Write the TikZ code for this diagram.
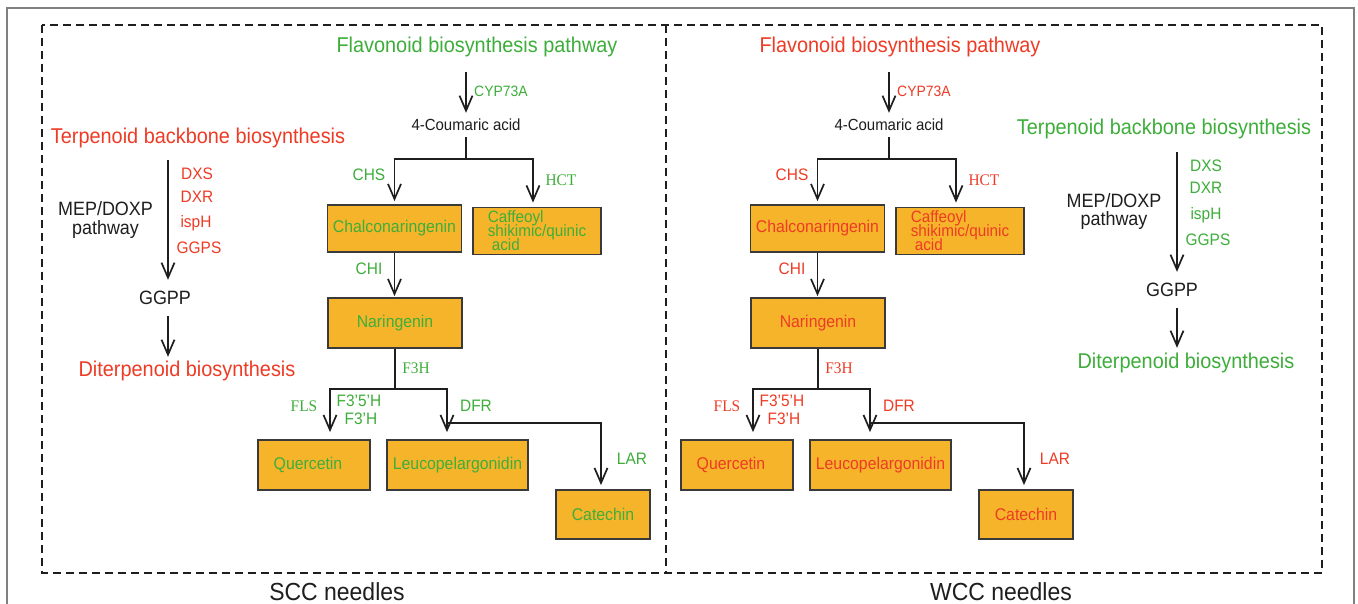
\documentclass[tikz,border=0pt]{standalone}
\usepackage{fontspec}
\setmainfont{Liberation Sans}[FakeStretch=0.93]
\newfontfamily\serifrm{Liberation Serif}[FakeStretch=0.95]
\usetikzlibrary{arrows.meta}
\definecolor{gr}{HTML}{3DAE3A}
\definecolor{rd}{HTML}{EE3B25}
\definecolor{orb}{HTML}{F6B42B}
\definecolor{frm}{HTML}{808080}
\definecolor{ink}{HTML}{1E1E1E}
\definecolor{bord}{HTML}{3A3A3A}
\newcommand\fsT{\fontsize{21.4pt}{24pt}\selectfont}
\newcommand\fsL{\fontsize{16.6pt}{18pt}\selectfont}
\newcommand\fsS{\fontsize{16.2pt}{18pt}\selectfont}
\newcommand\fsB{\fontsize{17pt}{14pt}\selectfont\lineskiplimit=-30pt\lineskip=0pt}
\newcommand\fsBs{\fontsize{16.4pt}{14pt}\selectfont\lineskiplimit=-30pt\lineskip=0pt}
\newcommand\fsC{\fontsize{15pt}{16pt}\selectfont}
\newcommand\fsM{\fontsize{19.3pt}{18.5pt}\selectfont}
\newcommand\fsN{\fontsize{24.7pt}{26pt}\selectfont}
\tikzset{
  ln/.style={line width=1.7pt, draw=ink},
  arr/.style={ln, -{Straight Barb[length=15pt,width=13pt]}},
  box/.style={draw=bord, fill=orb, line width=1.8pt, inner sep=0pt, font=\fsB},
  title/.style={inner sep=0pt, font=\fsT},
  lab/.style={inner sep=0pt, font=\fsL},
  slab/.style={inner sep=0pt, font=\serifrm\fsS},
  cmp/.style={inner sep=0pt, font=\fontsize{16.1pt}{18pt}\selectfont, text=ink},
  mid/.style={inner sep=0pt, font=\fsM, text=ink, align=center},
  dsh/.style={line width=2.2pt, draw=ink, dash pattern=on 8pt off 5pt},
}
\newcommand\flavpanel[3]{%
\begin{scope}[shift={(#2,0)}]
  \node[title, text=#3, minimum height=50] (#1t) at (477,47) {Flavonoid biosynthesis pathway};
  \node[cmp, minimum height=24] (#1ca) at (466,125) {4-Coumaric acid};
  \node[inner sep=0pt, font=\fsC, text=#3, anchor=west] (#1cyp) at (474,91) {CYP73A};
  \node[box, minimum width=134, minimum height=47, text=#3] (#1chal) at (394.5,228.5) {Chalconaringenin};
  \node[box, font=\fsBs, minimum width=128, minimum height=47, text=#3, align=left] (#1caf) at (537,231) {Caffeoyl\\shikimic/quinic\\\hspace*{4pt}acid};
  \node[box, minimum width=134, minimum height=50, text=#3] (#1nar) at (395,323) {Naringenin};
  \node[box, minimum width=112, minimum height=50, text=#3] (#1q) at (314,465) {Quercetin\hspace*{12pt}};
  \node[box, minimum width=141, minimum height=50, text=#3] (#1l) at (457.5,465) {Leucopelargonidin};
  \node[box, minimum width=94, minimum height=49, text=#3] (#1cat) at (603,514.5) {Catechin};
  \node[lab, text=#3] (#1chs) at (369,175) {CHS};
  \node[slab, text=#3] (#1hct) at (561,180) {HCT};
  \node[lab, text=#3] (#1chi) at (369,269) {CHI};
  \node[slab, text=#3] (#1f3h) at (416,368) {F3H};
  \node[slab, text=#3] (#1fls) at (304,406) {FLS};
  \node[lab, text=#3] (#1f35) at (359,401) {F3'5'H};
  \node[lab, text=#3] (#1f3p) at (361,419) {F3'H};
  \node[lab, text=#3] (#1dfr) at (476,406) {DFR};
  \node[lab, text=#3] (#1lar) at (632,459) {LAR};
  \coordinate (#1j) at (466,159);
  \coordinate (#1k) at (395,389);
  \coordinate (#1m) at (447,423);
  \draw[arr] (#1t.south -| #1ca) -- (#1ca.north);
  \draw[ln] (#1ca.south) -- (#1j);
  \draw[arr, shorten >=3pt] (#1j) -| (#1chal.north);
  \draw[arr, shorten >=4pt] (#1j) -| ([xshift=-4pt]#1caf.north);
  \draw[arr, shorten >=1pt] (#1chal.south) -- (#1chal.south |- #1nar.north);
  \draw[ln] (#1nar.south) -- (#1k);
  \draw[arr, shorten >=7pt] (#1k) -| ([xshift=16pt]#1q.north);
  \draw[arr, shorten >=7pt] (#1k) -| ([xshift=-10.5pt]#1l.north);
  \draw[arr, shorten >=4pt] (#1m) -| ([xshift=-2pt]#1cat.north);
\end{scope}}
\begin{document}
\begin{tikzpicture}[x=1pt, y=-1pt]
  \useasboundingbox (0,0) rectangle (1358,604);
  \fill[white] (0,0) rectangle (1358,604);
  % outer frame
  \draw[frm, line width=1.5pt] (7,606) -- (7,8) -- (1354,8) -- (1354,606);
  % dashed panels
  \draw[dsh] (42,25) rectangle (1322,573);
  \draw[dsh] (666,25) -- (666,573);
  % flavonoid panels
  \flavpanel{L}{0}{gr}
  \flavpanel{R}{423}{rd}
  % left terpenoid
  \node[title, text=rd] (LTt) at (198,138) {Terpenoid backbone biosynthesis};
  \coordinate (LTa) at (168,160);
  \node[mid, minimum height=36] (LTg) at (165,298) {GGPP};
  \node[title, text=rd, minimum height=28] (LTd) at (187,371) {Diterpenoid biosynthesis};
  \node[mid] (LTm) at (105.5,220) {MEP/DOXP\\pathway};
  \node[lab, text=rd] (LTdxs) at (197,174) {DXS};
  \node[lab, text=rd] (LTdxr) at (197,197) {DXR};
  \node[lab, text=rd] (LTisp) at (196,223) {ispH};
  \node[lab, text=rd] (LTggps) at (199,248) {GGPS};
  \draw[ln, line width=2.1pt] (LTa) -- ++(0,73);
  \draw[arr] (LTa) -- (LTa |- LTg.north);
  \draw[arr] (LTa |- LTg.south) -- (LTa |- LTd.north);
  % right terpenoid
  \node[title, text=gr] (RTt) at (1164,129) {Terpenoid backbone biosynthesis};
  \coordinate (RTa) at (1177,152);
  \node[mid, minimum height=36] (RTg) at (1172,290) {GGPP};
  \node[title, text=gr, minimum height=30] (RTd) at (1186,363) {Diterpenoid biosynthesis};
  \node[mid] (RTm) at (1114,211.5) {MEP/DOXP\\pathway};
  \node[lab, text=gr] (RTdxs) at (1206,166) {DXS};
  \node[lab, text=gr] (RTdxr) at (1206,188) {DXR};
  \node[lab, text=gr] (RTisp) at (1206,215) {ispH};
  \node[lab, text=gr] (RTggps) at (1208,240) {GGPS};
  \draw[ln, line width=2.1pt] (RTa) -- ++(0,75);
  \draw[arr] (RTa) -- (RTa |- RTg.north);
  \draw[arr] (RTa |- RTg.south) -- (RTa |- RTd.north);
  % captions
  \node[inner sep=0pt, font=\fsN, text=ink] (scc) at (337,592) {SCC needles};
  \node[inner sep=0pt, font=\fsN, text=ink] (wcc) at (1001,592) {WCC needles};
\end{tikzpicture}
\end{document}
